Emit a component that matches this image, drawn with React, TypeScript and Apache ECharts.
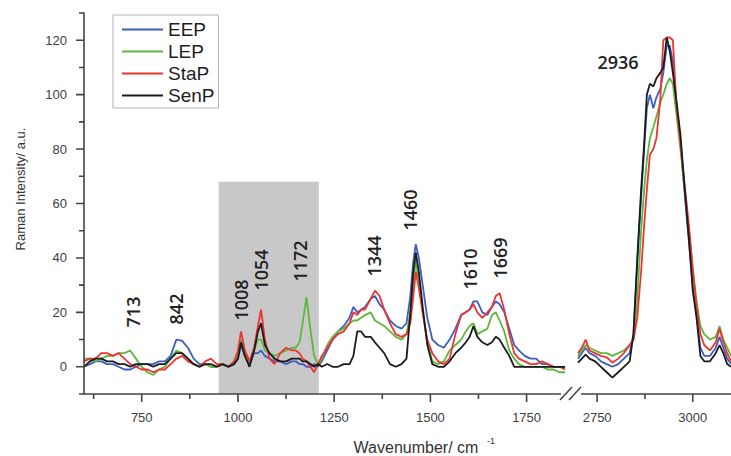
import React, { useEffect, useRef } from 'react';
import * as echarts from 'echarts';

// ---------- data ----------
const wavenumbersLow = [
  600, 615, 630, 645, 660, 675, 690, 705, 720, 735,
  750, 765, 780, 795, 810, 825, 840, 855, 870, 885,
  900, 915, 930, 945, 960, 975, 990, 1000, 1008, 1018,
  1030, 1042, 1052, 1060, 1070, 1082, 1095, 1110, 1125, 1140,
  1150, 1160, 1168, 1178, 1188, 1198, 1208, 1218, 1232, 1246,
  1260, 1275, 1290, 1300, 1310, 1320, 1330, 1345, 1356, 1368,
  1380, 1395, 1410, 1425, 1438, 1448, 1455, 1462, 1470, 1480,
  1492, 1505, 1520, 1535, 1550, 1565, 1580, 1592, 1602, 1612,
  1622, 1635, 1648, 1660, 1670, 1680, 1692, 1705, 1718, 1730,
  1745, 1760, 1775, 1790, 1805, 1820, 1835, 1850,
];

const eepLow = [
  0, 1, 2, 2, 1, 1, 0, -1, -1, 0,
  1, 1, 1, 2, 2, 4, 10, 9.5, 7, 3,
  1, 1, 0, 0, 1, 0, 1, 3, 8, 4,
  1, 5, 5, 6, 4, 3, 2, 2, 1, 2,
  2, 1, 1, 0, 0, 1, 0, 2, 6, 10,
  13, 15, 18, 22, 20, 21, 22, 25, 26, 23,
  21, 17, 15, 14, 16, 26, 38, 45, 40, 30,
  18, 10, 8, 7, 10, 14, 19, 20, 21, 24,
  24, 20, 19, 22, 24, 23, 20, 14, 8, 6,
  4, 3, 3, 1, 1, 0, 0, 0,
];

const lepLow = [
  3, 3, 2, 3, 4, 4, 5, 5, 6, 3,
  0, -2, -3, -1, 0, 3, 6, 5, 3, 1,
  0, 1, 0, 0, 1, 0, 2, 5, 10, 5,
  2, 6, 10, 10, 6, 5, 4, 5, 6, 7,
  7, 9, 16, 25.5, 14, 4, 1, 3, 8, 11,
  13, 14, 16, 17, 17, 18, 19, 20, 17, 16,
  15, 13, 11, 10, 12, 20, 30, 39, 32, 20,
  9, 2, 1, 2, 6, 8, 10, 13, 15, 16,
  12, 13, 14, 19, 20, 17, 13, 6, 3, 1,
  0, 0, 0, 0, -1, -1, -2, -2,
];

const stapLow = [
  2, 3, 3, 5, 5, 4, 5, 3, 1, 0,
  -1, -1, -2, -1, -1, 1, 3, 4, 2, 1,
  0, 2, 3, 1, 1, 0, 2, 6, 13, 6,
  2, 7, 15, 21, 10, 3, 1, 5, 7, 6,
  6, 5, 3, 2, 0, -2, 1, 4, 7, 10,
  12, 13, 16, 20, 19, 21, 21, 25, 28, 26,
  21, 16, 12, 11, 12, 16, 25, 35, 29, 20,
  10, 5, 2, 1, 3, 12, 19, 20, 21, 23,
  20, 18, 20, 22, 26, 27, 21, 12, 5, 3,
  2, 1, 1, 2, 1, 0, 0, -1,
];

const senpLow = [
  0, 2, 3, 3, 2, 2, 1, 1, 0, 1,
  1, 1, 0, 1, 1, 3, 5, 5, 3, 1,
  0, 1, 1, 0, 1, 0, 1, 3, 9, 4,
  0, 6, 13, 16, 8, 5, 3, 2, 2, 3,
  3, 3, 2, 2, 1, 0, 1, 0, 1, 0,
  0, 1, 1, 4, 13, 13, 11, 11, 9, 7,
  5, 1, 0, 1, 3, 20, 34, 42, 35, 22,
  8, 1, 0, 0, 2, 5, 7, 9, 11, 15,
  11, 9, 8, 9, 11, 10, 7, 4, 0, 0,
  0, 0, 0, 0, 0, 0, 0, 0,
];

const wavenumbersHigh = [
  2700, 2710, 2720, 2730, 2745, 2760, 2775, 2790, 2805, 2820,
  2835, 2845, 2855, 2865, 2873, 2880, 2888, 2897, 2905, 2915,
  2923, 2932, 2940, 2948, 2958, 2968, 2978, 2990, 3000, 3010,
  3020, 3030, 3045, 3060, 3070, 3080, 3090, 3100,
];

const eepHigh = [
  3, 5, 7, 5, 4, 2, 1, 0, 1, 3,
  5, 12, 38, 62, 80, 95, 100, 95, 99, 102,
  108, 118, 118, 112, 95, 82, 65, 46, 30, 19,
  7, 4, 4, 7, 11, 7, 3, 1,
];

const lepHigh = [
  4, 6, 8, 7, 6, 5, 5, 4, 5, 6,
  8, 10, 25, 50, 65, 76, 84, 88, 92, 97,
  100, 104, 106, 104, 92, 80, 66, 50, 36, 24,
  15, 12, 10, 11, 15, 10, 7, 4,
];

const stapHigh = [
  5, 7, 10, 6, 5, 4, 3.5, 1.5, 3, 5,
  8, 10, 18, 35, 52, 65, 78, 80, 84, 98,
  120, 121, 121, 120, 95, 82, 68, 52, 36, 22,
  12, 8, 6, 9, 14, 9, 5, 2,
];

const senpHigh = [
  1.5, 3, 4.5, 3, 2, 0, -2, -4, -2, 0,
  2, 12, 40, 65, 82, 100, 104, 103, 106, 108,
  110, 121, 116, 108, 97, 85, 67, 47, 28, 18,
  4, 2, 2, 5, 8, 5, 1, 0,
];

const seriesNames = ['EEP', 'LEP', 'StaP', 'SenP'];
const lowValues = [eepLow, lepLow, stapLow, senpLow];
const highValues = [eepHigh, lepHigh, stapHigh, senpHigh];

const yTickLabels = [0, 20, 40, 60, 80, 100, 120];
const yMinorTicks = [-10, 10, 30, 50, 70, 90, 110, 130];
const xLowLabels = [750, 1000, 1250, 1500, 1750];
const xLowMinor = [625, 875, 1125, 1375, 1625];
const xHighLabels = [2750, 3000];
const xHighMinor = [2875];

const shadedBand = { from: 950, to: 1210, top: 68 };

const peakLabels = ['713', '842', '1008', '1054', '1172', '1344', '1460', '1610', '1669'];
const peakLabelHigh = '2936';

// ---------- layout / style ----------
const seriesColors = ['#3c5fbf', '#5cb83a', '#ef3333', '#1b1b1b'];
const peakLabelPos = [
  [133, 312], [176, 309], [241, 300], [261, 270], [300, 261],
  [374, 256], [410, 210], [470, 269], [500, 258],
];
const peakLabelHighPos = [618, 62];
const axisColor = '#444444';
const tickFont = 'Liberation Sans, Arial, sans-serif';
const peakFont = 'Open Sans, Noto Sans, sans-serif';

export default function App() {
  const ref = useRef<HTMLDivElement>(null);

  useEffect(() => {
    if (!ref.current) return;
    const chart = echarts.init(ref.current, undefined, { renderer: 'svg' });

    const labelStyle = { color: '#404040', fontSize: 13, fontFamily: tickFont };
    const fmt = (v: number) => String(v);

    const xAxisDef = (gridIndex: number, min: number, max: number, values: number[]) => ({
      type: 'value', gridIndex, position: 'bottom', min, max,
      axisLine: { show: false },
      axisTick: { show: false },
      axisLabel: { show: true, customValues: values, margin: 17, formatter: fmt, ...labelStyle },
      splitLine: { show: false },
    });

    const series: any[] = [];
    seriesNames.forEach((name, i) => {
      series.push({
        type: 'line', name, xAxisIndex: 0, yAxisIndex: 0,
        data: wavenumbersLow.map((w, k) => [w, lowValues[i][k]]),
        symbol: 'none', silent: true, z: 3,
        lineStyle: { color: seriesColors[i], width: 1.8 },
        itemStyle: { color: seriesColors[i] },
        ...(i === 0
          ? {
              markArea: {
                silent: true,
                itemStyle: { color: '#c8c8c8' },
                data: [[
                  { xAxis: shadedBand.from, yAxis: -10 },
                  { xAxis: shadedBand.to, yAxis: shadedBand.top },
                ]],
              },
            }
          : {}),
      });
    });
    seriesNames.forEach((name, i) => {
      series.push({
        type: 'line', name, xAxisIndex: 1, yAxisIndex: 1,
        data: wavenumbersHigh.map((w, k) => [w, highValues[i][k]]),
        symbol: 'none', silent: true, z: 3,
        lineStyle: { color: seriesColors[i], width: 1.8 },
        itemStyle: { color: seriesColors[i] },
      });
    });

    chart.setOption({
      animation: false,
      backgroundColor: '#fff',
      grid: [
        { left: 84, top: 13, width: 483, height: 381 },
        { left: 578, top: 13, width: 153, height: 381 },
      ],
      xAxis: [
        xAxisDef(0, 600, 1855, xLowLabels),
        xAxisDef(1, 2700, 3100, xHighLabels),
      ],
      yAxis: [
        {
          type: 'value', gridIndex: 0, position: 'left', min: -10, max: 130,
          axisLine: { show: false },
          axisTick: { show: false },
          axisLabel: { show: true, customValues: yTickLabels, margin: 17, formatter: fmt, ...labelStyle },
          splitLine: { show: false },
        },
        { type: 'value', gridIndex: 1, min: -10, max: 130, show: false },
      ],
      legend: {
        orient: 'vertical', left: 113, top: 15,
        data: seriesNames, icon: 'rect', itemWidth: 41, itemHeight: 2, itemGap: 3,
        padding: [5, 4, 3, 9], borderColor: '#b4b4b4', borderWidth: 1,
        selectedMode: false,
        textStyle: { fontSize: 19, color: '#1e1e1e', fontFamily: tickFont, lineHeight: 19 },
      },
      series,
    });

    // ---- axes drawn as combs, positioned through the axes' own scales ----
    const px = (axis: number, v: number) => chart.convertToPixel({ xAxisIndex: axis }, v) as number;
    const py = (v: number) => chart.convertToPixel({ yAxisIndex: 0 }, v) as number;
    const axisY = py(-10);
    const axisTop = py(130);
    const axisX = px(0, 600);

    const xComb = (axis: number, start: number, end: number, major: number[], minor: number[]) => {
      const marks = [
        ...major.map((v) => ({ x: px(axis, v), len: 8 })),
        ...minor.map((v) => ({ x: px(axis, v), len: 5 })),
      ].sort((a, b) => a.x - b.x);
      const pts: number[][] = [[start, axisY]];
      marks.forEach((m) => { pts.push([m.x, axisY], [m.x, axisY + m.len], [m.x, axisY]); });
      pts.push([end, axisY]);
      return pts;
    };
    const yComb = () => {
      const marks = [
        ...yTickLabels.map((v) => ({ y: py(v), len: 8 })),
        ...yMinorTicks.map((v) => ({ y: py(v), len: 5 })),
      ].sort((a, b) => b.y - a.y);
      const pts: number[][] = [[axisX, axisY]];
      marks.forEach((m) => { pts.push([axisX, m.y], [axisX - m.len, m.y], [axisX, m.y]); });
      pts.push([axisX, axisTop]);
      return pts;
    };

    const graphics: any[] = [];
    const combStyle = { stroke: axisColor, lineWidth: 1.6, fill: null, lineJoin: 'miter' };
    graphics.push({ type: 'polyline', z: 55, shape: { points: xComb(0, axisX, 561, xLowLabels, xLowMinor) }, style: combStyle });
    graphics.push({ type: 'polyline', z: 55, shape: { points: xComb(1, 581, 731, xHighLabels, xHighMinor) }, style: combStyle });
    graphics.push({ type: 'polyline', z: 55, shape: { points: yComb() }, style: combStyle });

    peakLabels.forEach((t, i) => {
      graphics.push({
        type: 'text', x: peakLabelPos[i][0], y: peakLabelPos[i][1], rotation: Math.PI / 2, z: 50,
        style: { text: t, x: 0, y: 0, align: 'center', verticalAlign: 'middle', fill: '#222',
          font: `600 18px ${peakFont}` },
      });
    });
    graphics.push({
      type: 'text', x: peakLabelHighPos[0], y: peakLabelHighPos[1], z: 50,
      style: { text: peakLabelHigh, x: 0, y: 0, align: 'center', verticalAlign: 'middle', fill: '#222',
        font: `600 18px ${peakFont}` },
    });
    // axis titles
    graphics.push({
      type: 'text', x: 20, y: 189, rotation: Math.PI / 2, z: 50,
      style: { text: 'Raman Intensity/ a.u.', x: 0, y: 0, align: 'center', verticalAlign: 'middle',
        fill: '#333', font: `13px ${tickFont}` },
    });
    graphics.push({
      type: 'text', x: 416, y: 447, z: 50,
      style: { text: 'Wavenumber/ cm', x: 0, y: 0, align: 'center', verticalAlign: 'middle',
        fill: '#333', font: `16px ${tickFont}` },
    });
    graphics.push({
      type: 'text', x: 487, y: 441, z: 50,
      style: { text: '-1', x: 0, y: 0, align: 'left', verticalAlign: 'middle',
        fill: '#333', font: `9px ${tickFont}` },
    });
    // axis break marks
    graphics.push({ type: 'line', z: 61, shape: { x1: 560, y1: axisY + 6, x2: 572, y2: axisY - 7 }, style: { stroke: axisColor, lineWidth: 1.5 } });
    graphics.push({ type: 'line', z: 61, shape: { x1: 569, y1: axisY + 6, x2: 581, y2: axisY - 7 }, style: { stroke: axisColor, lineWidth: 1.5 } });

    chart.setOption({ graphic: graphics });

    return () => chart.dispose();
  }, []);

  return (
    <div
      ref={ref}
      style={{ position: 'absolute', left: 0, top: 0, width: 731, height: 456, background: '#fff' }}
    />
  );
}
